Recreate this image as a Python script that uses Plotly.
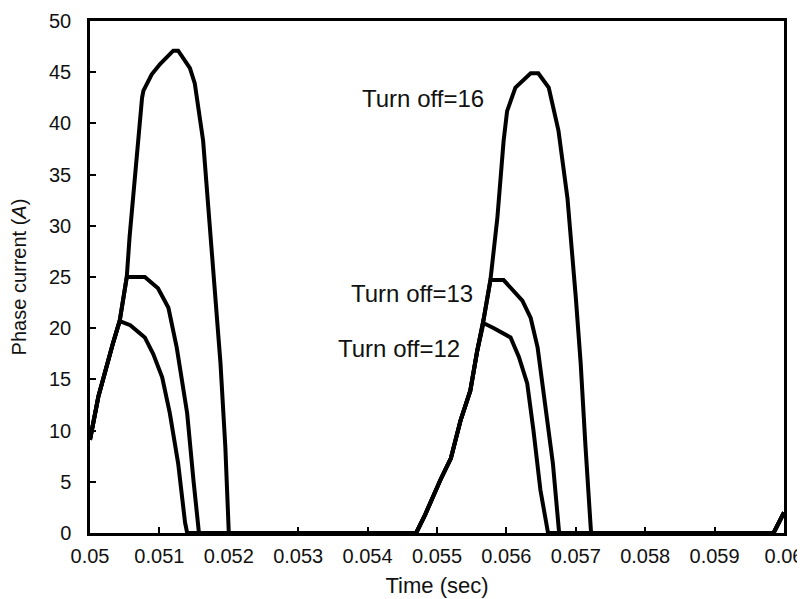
import plotly.graph_objects as go

# Turn off = 16
t16 = [0.05, 0.05012, 0.05033, 0.05043, 0.05053, 0.05057, 0.05075, 0.05077, 0.05089, 0.05101, 0.0512, 0.05127,
       0.05144, 0.05151, 0.05163, 0.05173, 0.0518, 0.05188, 0.05195, 0.052,
       0.0547, 0.05483, 0.05505, 0.0552, 0.05534, 0.05548, 0.05558, 0.05567, 0.05577, 0.05587, 0.05596, 0.05601,
       0.05613, 0.05635, 0.05646, 0.05661, 0.05675, 0.05688, 0.057, 0.05707, 0.05714, 0.05722,
       0.05985, 0.06]
i16 = [9.1, 13.3, 18.5, 20.8, 25.0, 28.9, 42.5, 43.2, 44.8, 45.8, 47.1, 47.1,
       45.4, 43.9, 38.3, 29.5, 24.4, 16.6, 8.4, 0.0,
       0.0, 1.8, 5.2, 7.3, 11.0, 13.9, 17.8, 20.8, 24.7, 30.8, 38.3, 41.2,
       43.5, 44.9, 44.9, 43.5, 39.3, 32.7, 23.0, 16.6, 8.4, 0.0,
       0.0, 2.0]

# Turn off = 13
t13 = [0.05, 0.05012, 0.05033, 0.05043, 0.05053, 0.05079, 0.05098, 0.05113, 0.05125, 0.0514, 0.05149, 0.05157,
       0.0547, 0.05483, 0.05505, 0.0552, 0.05534, 0.05548, 0.05558, 0.05567, 0.05577, 0.05596,
       0.05623, 0.05635, 0.05645, 0.05654, 0.05667, 0.05676,
       0.05985, 0.06]
i13 = [9.1, 13.3, 18.5, 20.8, 25.0, 25.0, 23.9, 22.0, 18.1, 11.7, 5.2, 0.0,
       0.0, 1.8, 5.2, 7.3, 11.0, 13.9, 17.8, 20.8, 24.7, 24.7,
       22.7, 21.0, 18.1, 13.3, 6.8, 0.0,
       0.0, 2.0]

# Turn off = 12
t12 = [0.05, 0.05012, 0.05033, 0.05043, 0.05058, 0.05079, 0.05091, 0.05104, 0.05115, 0.05127, 0.05137, 0.0514,
       0.0547, 0.05483, 0.05505, 0.0552, 0.05534, 0.05548, 0.05558, 0.05567, 0.05582, 0.05606,
       0.05618, 0.0563, 0.05639, 0.05649, 0.0566,
       0.05985, 0.06]
i12 = [9.1, 13.3, 18.5, 20.7, 20.3, 19.1, 17.5, 15.2, 11.7, 6.8, 1.0, 0.0,
       0.0, 1.8, 5.2, 7.3, 11.0, 13.9, 17.8, 20.5, 20.0, 19.1,
       17.2, 14.6, 10.0, 4.2, 0.0,
       0.0, 2.0]

labels = ["Turn off=16", "Turn off=13", "Turn off=12"]
label_t = [0.054805, 0.054646, 0.054459]
label_i = [42.4, 23.4, 18.0]

x_ticks = [0.05, 0.051, 0.052, 0.053, 0.054, 0.055, 0.056, 0.057, 0.058, 0.059, 0.06]
x_ticktext = ["0.05", "0.051", "0.052", "0.053", "0.054", "0.055", "0.056", "0.057", "0.058", "0.059", "0.06"]
y_ticks = [0, 5, 10, 15, 20, 25, 30, 35, 40, 45, 50]

FONT = "Liberation Sans, Arial, sans-serif"
TXT = "#111"

fig = go.Figure()
for t, i, name in [(t16, i16, labels[0]), (t13, i13, labels[1]), (t12, i12, labels[2])]:
    fig.add_trace(go.Scatter(x=t, y=i, mode="lines", name=name,
                             line=dict(color="black", width=4), showlegend=False))

for txt, xt, yi in zip(labels, label_t, label_i):
    fig.add_annotation(x=xt, y=yi, text=txt, showarrow=False, xanchor="center", yanchor="middle",
                       font=dict(family=FONT, size=24, color=TXT))

axis_common = dict(showline=True, linecolor="black", linewidth=2.5, mirror=True, showgrid=False,
                   zeroline=False, ticks="inside", tickcolor="black", ticklen=6, tickwidth=1.5,
                   automargin=False, tickfont=dict(family=FONT, size=20, color=TXT))

fig.update_xaxes(range=[0.05, 0.06], tickvals=x_ticks, ticktext=x_ticktext, ticklabelstandoff=3,
                 title=dict(text="Time (sec)", font=dict(family=FONT, size=22, color=TXT), standoff=12),
                 **axis_common)
fig.update_yaxes(range=[0, 50], tickvals=y_ticks, ticklabelstandoff=12,
                 title=dict(text="Phase current (<i>A</i>)", font=dict(family=FONT, size=20, color=TXT), standoff=19),
                 **axis_common)

# the page adds an 8px body margin, so the figure is offset by 8px
fig.update_layout(width=797, height=591, plot_bgcolor="white", paper_bgcolor="white",
                  margin=dict(l=82, r=21, t=13, b=66))

fig.write_html("out.html")
